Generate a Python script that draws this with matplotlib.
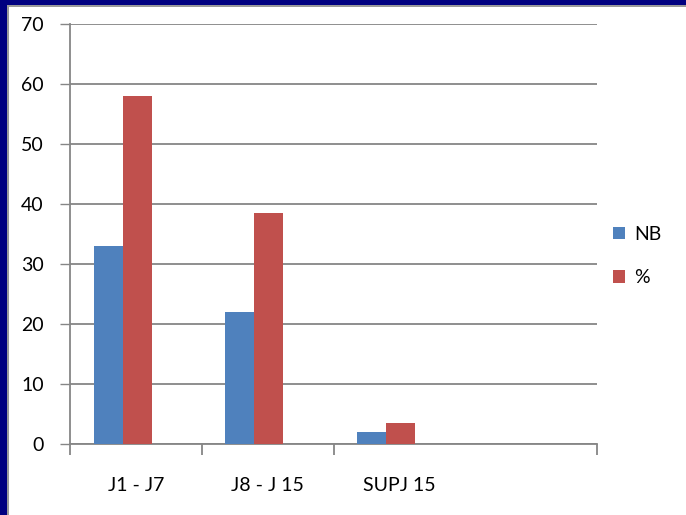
"""Histogramme NB / % par tranche de jours (J1-J7, J8-J15, >J15)."""
import matplotlib

matplotlib.use("Agg")
import matplotlib.pyplot as plt  # noqa: E402
from matplotlib.patches import Rectangle  # noqa: E402

plt.rcParams["font.family"] = ["Lato", "DejaVu Sans"]

categories = ["J1 - J7", "J8 - J 15", "SUPJ 15", ""]
nb = [33, 22, 2, 0]
pct = [58, 38.5, 3.5, 0]
series_names = ["NB", "%"]
y_ticks = [0, 10, 20, 30, 40, 50, 60, 70]

W, H = 686, 515
fig = plt.figure(figsize=(W / 100, H / 100), dpi=100)
fig.patch.set_facecolor("#000080")

# cadre bleu + liseré gris (bord gauche et haut)
fig.patches.append(Rectangle((7 / W, 0), 1, (H - 5) / H, transform=fig.transFigure,
                             facecolor="#9a9a9a", edgecolor="none", zorder=-2))
fig.patches.append(Rectangle((9 / W, 0), 1, (H - 7) / H, transform=fig.transFigure,
                             facecolor="white", edgecolor="none", zorder=-1))

ax = fig.add_axes([70 / W, (H - 444) / H, (597 - 70) / W, (444 - 24) / H])
ax.set_zorder(2)
ax.set_facecolor("none")

bw = 0.22
shift = -0.1
xs = [i + 0.5 + shift for i in range(len(categories))]
ax.bar([x - bw / 2 for x in xs], nb, width=bw, color="#4F81BD", label=series_names[0], zorder=3)
ax.bar([x + bw / 2 for x in xs], pct, width=bw, color="#C0504D", label=series_names[1], zorder=3)

ax.set_xlim(0, len(categories))
ax.set_ylim(0, 70)
ax.set_yticks(y_ticks)
ax.yaxis.grid(True, color="#868686", lw=1.3, zorder=0)
ax.tick_params(axis="y", direction="out", length=7, width=1, color="#868686",
               labelsize=14, pad=12)

# ticks entre catégories, libellés au centre
ax.set_xticks([0, 1, 2, 4])
ax.set_xticklabels([])
ax.set_xticks([i + 0.5 for i in range(len(categories))], minor=True)
ax.set_xticklabels(categories, minor=True)
ax.tick_params(axis="x", which="major", direction="out", length=8, width=1.3, color="#868686")
ax.tick_params(axis="x", which="minor", length=0, labelsize=14, pad=24)

for side in ("top", "right"):
    ax.spines[side].set_visible(False)
for side in ("left", "bottom"):
    ax.spines[side].set_color("#868686")
    ax.spines[side].set_linewidth(1.3)

ax.legend(loc="upper left", bbox_to_anchor=(613 / W, 1 - 226 / H),
          bbox_transform=fig.transFigure, frameon=False, fontsize=14,
          handlelength=0.62, handleheight=0.62, handletextpad=0.46,
          labelspacing=1.35, borderpad=0, borderaxespad=0)

fig.savefig("out.png", dpi=100, facecolor=fig.get_facecolor())
